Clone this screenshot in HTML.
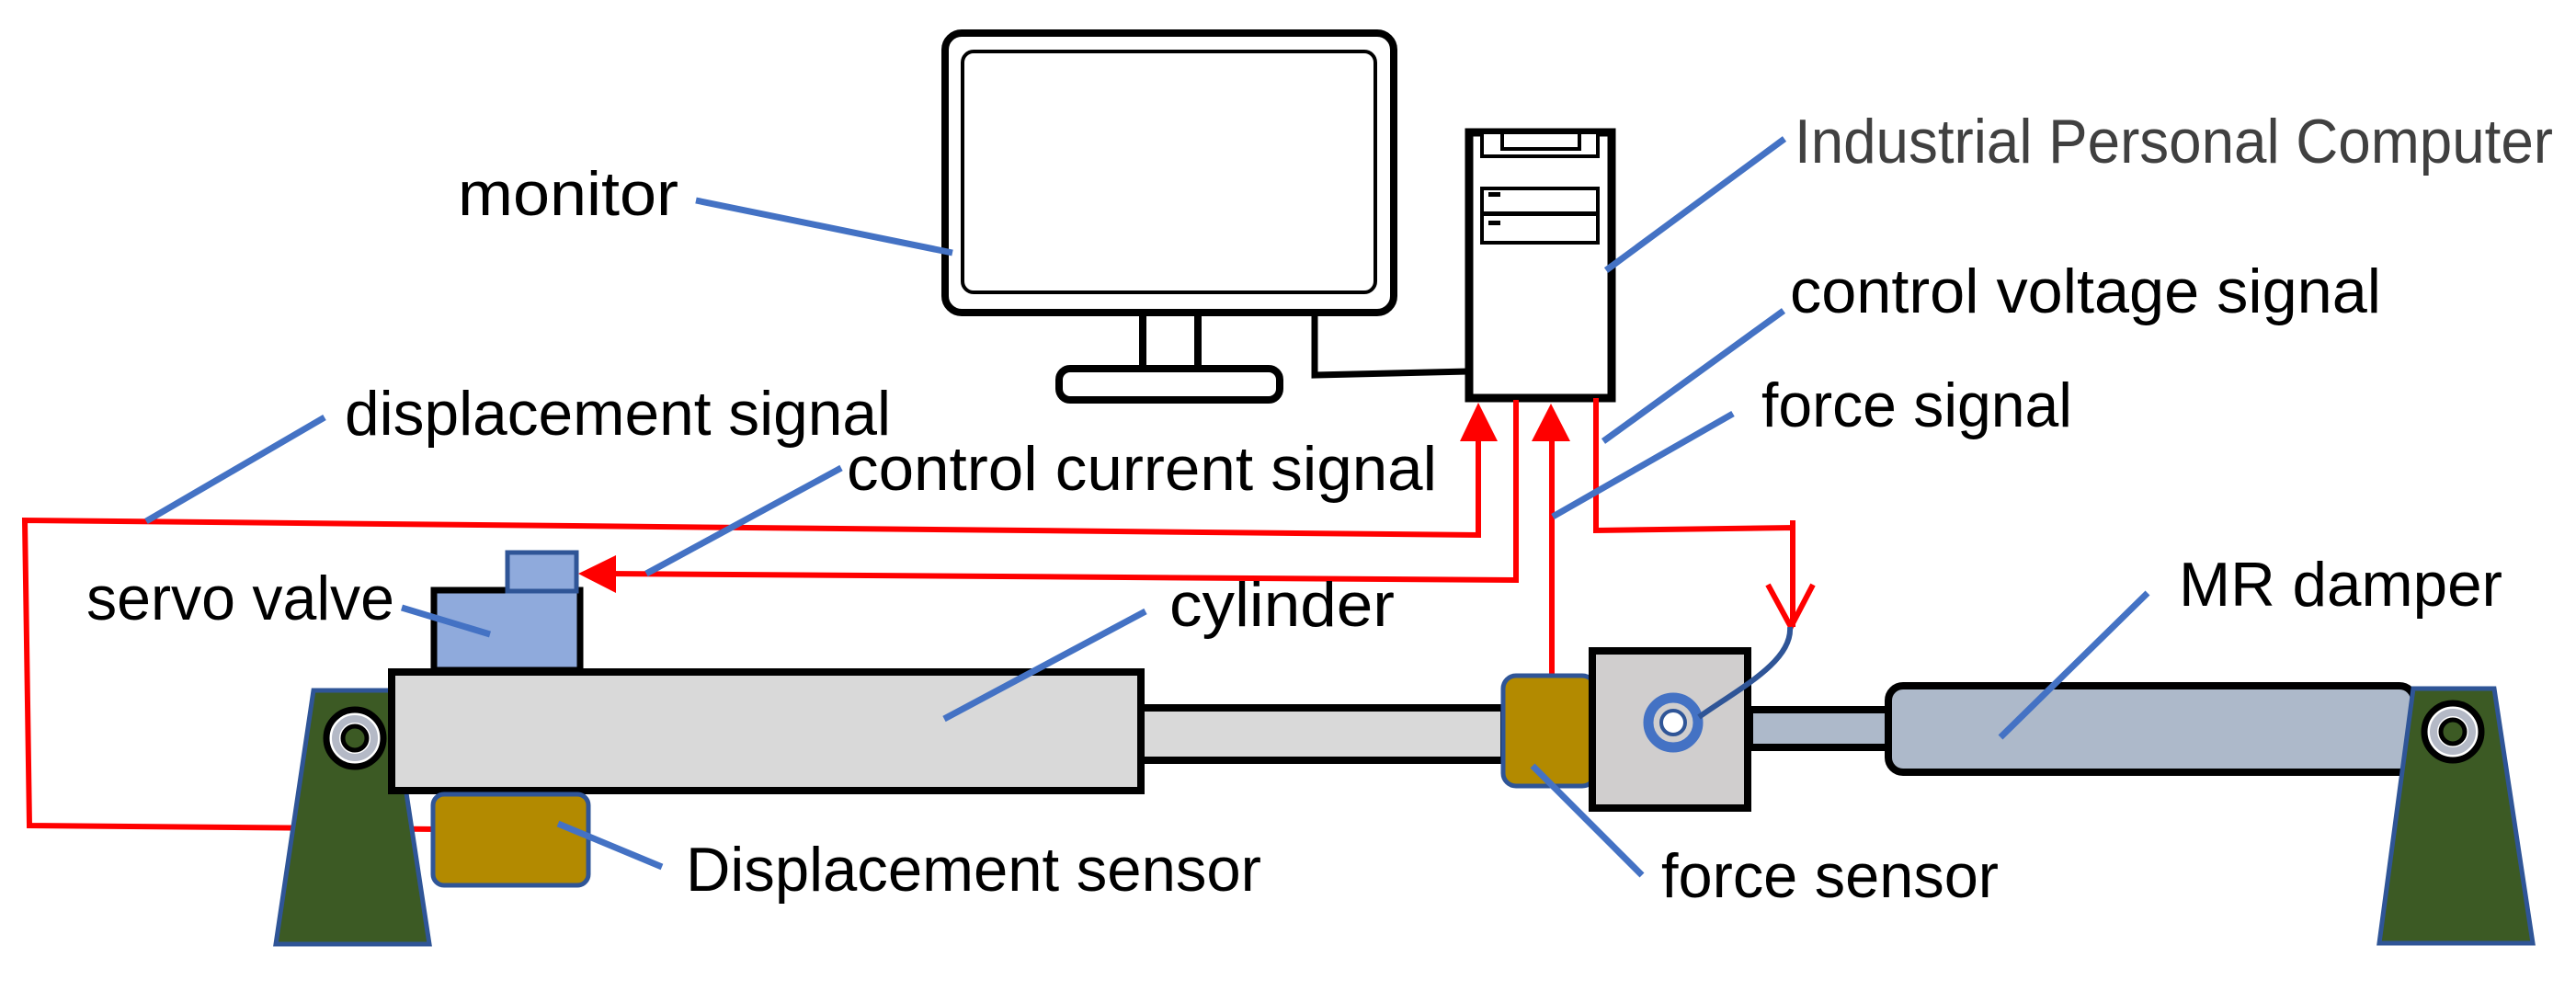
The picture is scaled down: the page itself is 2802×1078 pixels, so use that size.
<!DOCTYPE html>
<html><head><meta charset="utf-8"><style>
html,body{margin:0;padding:0;background:#fff;}
svg{display:block;}
text{font-family:"Liberation Sans",sans-serif;font-size:68px;fill:#000;}
</style></head><body>
<svg width="2802" height="1078" viewBox="0 0 2802 1078" xmlns="http://www.w3.org/2000/svg">
<!-- monitor -->
<rect x="1028" y="36" width="488" height="304" rx="18" fill="#fff" stroke="#000" stroke-width="8"/>
<rect x="1047" y="56" width="449" height="262" rx="12" fill="#fff" stroke="#000" stroke-width="4"/>
<rect x="1243" y="340" width="60" height="61" fill="#fff" stroke="#000" stroke-width="8"/>
<rect x="1152" y="401" width="240" height="34" rx="12" fill="#fff" stroke="#000" stroke-width="8"/>
<polyline points="1430,340 1430,408 1597,404" fill="none" stroke="#000" stroke-width="7"/>
<!-- IPC -->
<rect x="1598" y="144" width="155" height="289" fill="#fff" stroke="#000" stroke-width="9"/>
<rect x="1612" y="144" width="126" height="26" fill="#fff" stroke="#000" stroke-width="4"/>
<rect x="1634" y="144" width="84" height="18" fill="#fff" stroke="#000" stroke-width="4"/>
<rect x="1612" y="205" width="126" height="27" fill="#fff" stroke="#000" stroke-width="4"/>
<rect x="1612" y="233" width="126" height="31" fill="#fff" stroke="#000" stroke-width="4"/>
<rect x="1619" y="209" width="13" height="5" fill="#000"/>
<rect x="1619" y="240" width="13" height="5" fill="#000"/>
<!-- red signal lines -->
<g fill="none" stroke="#f00" stroke-width="6">
<polyline points="475,902 32,898 27,566 1608,582 1608,470"/>
<polyline points="660,624 1649,631 1649,435"/>
<polyline points="1688,736 1688,470"/>
<polyline points="1736,433 1736,577 1950,574 1950,682"/>
<polyline points="1950,566 1950,574" />
<polyline points="1923,636 1948,682 1972,636"/>
</g>
<polygon points="1608,438 1588,480 1629,480" fill="#f00"/>
<polygon points="1687,439 1666,480 1708,480" fill="#f00"/>
<polygon points="629,624 670,604 670,645" fill="#f00"/>
<!-- left bracket -->
<polygon points="341,751 425,751 467,1027 300,1027" fill="#3c5a24" stroke="#2f5597" stroke-width="5"/>
<circle cx="386" cy="803" r="31" fill="#fff" stroke="#000" stroke-width="7"/>
<circle cx="386" cy="803" r="21" fill="none" stroke="#b4b9c6" stroke-width="8"/>
<circle cx="386" cy="803" r="13" fill="#3c5a24" stroke="#000" stroke-width="5"/>
<!-- cylinder -->
<rect x="1241" y="770" width="395" height="57" fill="#d9d9d9" stroke="#000" stroke-width="8"/>
<rect x="426" y="731" width="815" height="129" fill="#d9d9d9" stroke="#000" stroke-width="8"/>
<!-- servo valve -->
<rect x="472" y="642" width="159" height="87" fill="#8faadc" stroke="#000" stroke-width="7"/>
<rect x="552" y="601" width="75" height="42" fill="#8faadc" stroke="#2f5597" stroke-width="5"/>
<!-- displacement sensor -->
<rect x="471" y="864" width="169" height="99" rx="12" fill="#b38a00" stroke="#2f5597" stroke-width="5"/>
<!-- force sensor & block -->
<rect x="1635" y="735" width="100" height="120" rx="14" fill="#b38a00" stroke="#2f5597" stroke-width="5"/>
<rect x="1903" y="772" width="152" height="41" fill="#adb9ca" stroke="#000" stroke-width="8"/>
<rect x="1732" y="708" width="169" height="171" fill="#d0cece" stroke="#000" stroke-width="8"/>
<circle cx="1820" cy="786" r="27" fill="none" stroke="#4472c4" stroke-width="11"/>
<circle cx="1820" cy="786" r="13" fill="#fff" stroke="#2f5597" stroke-width="4"/>
<path d="M1848,780 C1890,750 1950,720 1947,682" fill="none" stroke="#2f5597" stroke-width="6"/>
<!-- damper -->
<rect x="2054" y="746" width="572" height="94" rx="16" fill="#adb9ca" stroke="#000" stroke-width="8"/>
<!-- right bracket -->
<polygon points="2625,749 2713,749 2755,1026 2588,1026" fill="#3c5a24" stroke="#2f5597" stroke-width="5"/>
<circle cx="2668" cy="796" r="31" fill="#fff" stroke="#000" stroke-width="7"/>
<circle cx="2668" cy="796" r="21" fill="none" stroke="#b4b9c6" stroke-width="8"/>
<circle cx="2668" cy="796" r="13" fill="#3c5a24" stroke="#000" stroke-width="5"/>
<!-- leaders -->
<g stroke="#4472c4" stroke-width="7" fill="none">
<line x1="757" y1="218" x2="1036" y2="275"/>
<line x1="353" y1="454" x2="159" y2="567"/>
<line x1="915" y1="509" x2="703" y2="624"/>
<line x1="437" y1="661" x2="533" y2="690"/>
<line x1="1246" y1="665" x2="1027" y2="782"/>
<line x1="607" y1="896" x2="720" y2="943"/>
<line x1="1941" y1="151" x2="1747" y2="294"/>
<line x1="1940" y1="338" x2="1744" y2="480"/>
<line x1="1885" y1="450" x2="1689" y2="562"/>
<line x1="2336" y1="645" x2="2176" y2="802"/>
<line x1="1667" y1="833" x2="1786" y2="952"/>
</g>
<!-- labels -->
<text x="498" y="234" textLength="240" lengthAdjust="spacingAndGlyphs">monitor</text>
<text x="375" y="473" textLength="594" lengthAdjust="spacingAndGlyphs">displacement signal</text>
<text x="921" y="533" textLength="642" lengthAdjust="spacingAndGlyphs">control current signal</text>
<text x="94" y="674" textLength="335" lengthAdjust="spacingAndGlyphs">servo valve</text>
<text x="1272" y="681" textLength="245" lengthAdjust="spacingAndGlyphs">cylinder</text>
<text x="746" y="969" textLength="626" lengthAdjust="spacingAndGlyphs">Displacement sensor</text>
<text x="1952" y="177" textLength="825" lengthAdjust="spacingAndGlyphs" style="fill:#404040">Industrial Personal Computer</text>
<text x="1947" y="340" textLength="643" lengthAdjust="spacingAndGlyphs">control voltage signal</text>
<text x="1916" y="464" textLength="338" lengthAdjust="spacingAndGlyphs">force signal</text>
<text x="2370" y="659" textLength="352" lengthAdjust="spacingAndGlyphs">MR damper</text>
<text x="1807" y="976" textLength="367" lengthAdjust="spacingAndGlyphs">force sensor</text>
</svg>
</body></html>
